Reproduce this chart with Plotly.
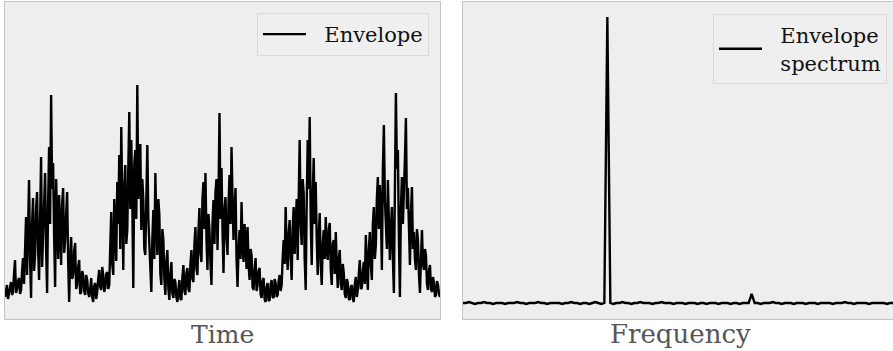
import plotly.graph_objects as go

# Envelope (time domain), amplitude, one sample per pixel step
envelope = [
    22, 30, 34, 20, 25, 31, 37, 24, 27, 45, 59, 26, 30, 38, 41, 25, 29, 48, 61, 35,
    76, 102, 44, 90, 139, 60, 21, 95, 121, 48, 64, 110, 127, 70, 39, 98, 162, 52, 79, 118,
    146, 70, 26, 115, 172, 95, 224, 130, 156, 85, 32, 140, 104, 60, 124, 88, 54, 115, 131, 66,
    79, 105, 127, 58, 17, 62, 82, 40, 44, 68, 76, 30, 34, 52, 59, 25, 27, 48, 44, 28,
    24, 44, 39, 26, 22, 30, 41, 22, 17, 33, 36, 20, 27, 40, 49, 32, 29, 52, 44, 27,
    31, 45, 47, 30, 34, 72, 107, 55, 44, 120, 89, 58, 137, 95, 164, 70, 192, 110, 49, 130,
    154, 75, 89, 150, 207, 110, 179, 120, 31, 155, 169, 100, 234, 120, 149, 175, 89, 140, 119, 70,
    64, 125, 174, 100, 79, 55, 27, 80, 109, 60, 146, 95, 64, 120, 104, 45, 34, 90, 79, 40,
    24, 58, 69, 30, 19, 45, 57, 26, 21, 40, 37, 22, 17, 30, 39, 20, 19, 42, 54, 28,
    24, 46, 51, 30, 27, 55, 69, 40, 37, 75, 92, 50, 44, 88, 111, 65, 57, 120, 137, 90,
    146, 80, 49, 105, 89, 55, 34, 95, 119, 75, 127, 140, 69, 120, 206, 100, 151, 90, 46, 110,
    122, 80, 64, 115, 144, 95, 172, 120, 79, 110, 131, 60, 32, 70, 89, 60, 117, 75, 57, 95,
    79, 50, 92, 55, 39, 70, 64, 32, 29, 50, 61, 28, 34, 48, 51, 25, 21, 38, 41, 20,
    17, 32, 36, 18, 19, 34, 39, 22, 21, 40, 36, 22, 24, 38, 44, 28, 34, 60, 79, 55,
    112, 70, 49, 85, 99, 60, 39, 90, 112, 65, 89, 120, 59, 110, 179, 95, 74, 140, 126, 60,
    29, 115, 179, 130, 202, 100, 54, 125, 161, 95, 137, 80, 44, 85, 106, 55, 34, 75, 89, 60,
    102, 70, 59, 90, 96, 50, 34, 75, 79, 45, 87, 55, 31, 60, 69, 35, 29, 55, 46, 25,
    21, 40, 36, 20, 19, 32, 34, 20, 17, 35, 42, 22, 29, 45, 59, 30, 31, 48, 57, 35,
    84, 50, 29, 70, 87, 55, 39, 95, 112, 60, 74, 120, 142, 90, 134, 110, 49, 150, 194, 120,
    99, 70, 139, 100, 59, 90, 112, 60, 26, 130, 226, 150, 169, 80, 22, 110, 142, 95, 119, 160,
    201, 110, 131, 85, 54, 105, 132, 70, 87, 60, 49, 90, 79, 45, 26, 60, 89, 55, 49, 70,
    64, 35, 29, 48, 54, 30, 27, 42, 36, 22, 24, 38, 34, 25, 22,
]
time = list(range(len(envelope)))

# Envelope spectrum, magnitude
spectrum = [
    16, 16, 17, 16, 15, 16, 16, 17, 16, 16, 15, 16, 16, 16, 15, 16, 16, 16, 17, 16,
    16, 15, 16, 16, 16, 17, 16, 16, 15, 16, 16, 16, 16, 15, 16, 16, 17, 16, 16, 15,
    16, 16, 15, 16, 17, 16, 15, 16, 302, 16, 15, 16, 16, 17, 16, 16, 15, 16, 16, 17,
    16, 16, 16, 15, 16, 16, 17, 16, 16, 16, 15, 16, 16, 16, 15, 16, 16, 16, 15, 16,
    16, 15, 16, 16, 16, 15, 16, 16, 16, 15, 16, 16, 15, 16, 16, 16, 25, 16, 16, 15,
    16, 16, 16, 17, 16, 16, 15, 16, 16, 16, 15, 16, 16, 16, 15, 16, 16, 16, 15, 16,
    16, 16, 16, 15, 16, 16, 16, 17, 16, 16, 15, 16, 16, 16, 16, 15, 16, 16, 16, 16,
    16, 15, 16, 16,
]
freq = list(range(len(spectrum)))

FONT = "DejaVu Serif"
W, H = 893, 351
NB = "\u00a0\u00a0"

fig = go.Figure()
fig.add_trace(go.Scatter(x=time, y=envelope, mode="lines", name=NB + "Envelope",
                         line=dict(color="black", width=2.4), xaxis="x", yaxis="y",
                         legend="legend"))
fig.add_trace(go.Scatter(x=freq, y=spectrum, mode="lines",
                         name=NB + "Envelope<br>" + NB + "spectrum",
                         line=dict(color="black", width=2.4), xaxis="x2", yaxis="y2",
                         legend="legend2"))

ydom = [(H - 319) / H, (H - 2) / H]
axcommon = dict(showgrid=False, zeroline=False, showticklabels=False, ticks="",
                showline=True, mirror=True, linecolor="#c4c4c4", linewidth=1)

legfont = dict(family=FONT, size=21, color="#111111")

fig.update_layout(
    width=W, height=H,
    margin=dict(l=0, r=0, t=0, b=0),
    paper_bgcolor="white",
    plot_bgcolor="#eeeeee",
    font=dict(family=FONT, color="black"),
    xaxis=dict(domain=[5 / W, 440 / W], range=[0, len(envelope) - 1], **axcommon),
    yaxis=dict(domain=ydom, range=[0, 317], **axcommon),
    xaxis2=dict(domain=[463 / W, 1.0], range=[0, len(spectrum) - 1], anchor="y2", **axcommon),
    yaxis2=dict(domain=ydom, range=[0, 317], anchor="x2", **axcommon),
    legend=dict(x=429 / W, y=(H - 13) / H, xanchor="right", yanchor="top",
                bgcolor="#efefef", bordercolor="#dadada", borderwidth=1,
                itemwidth=43, font=legfont),
    legend2=dict(x=887 / W, y=(H - 14) / H, xanchor="right", yanchor="top",
                 bgcolor="#efefef", bordercolor="#dadada", borderwidth=1,
                 itemwidth=43, font=legfont),
    showlegend=True,
    annotations=[
        dict(text="Time", x=222 / W, y=(H - 334) / H, xref="paper", yref="paper",
             xanchor="center", yanchor="middle", showarrow=False,
             font=dict(family=FONT, size=25, color="#555555")),
        dict(text="Frequency", x=680 / W, y=(H - 334) / H, xref="paper",
             yref="paper", xanchor="center", yanchor="middle", showarrow=False,
             font=dict(family=FONT, size=26, color="#555555")),
    ],
)

fig.write_html("out.html", config={"displayModeBar": False},
               post_script="document.body.style.margin='0';document.body.style.overflow='hidden';")
